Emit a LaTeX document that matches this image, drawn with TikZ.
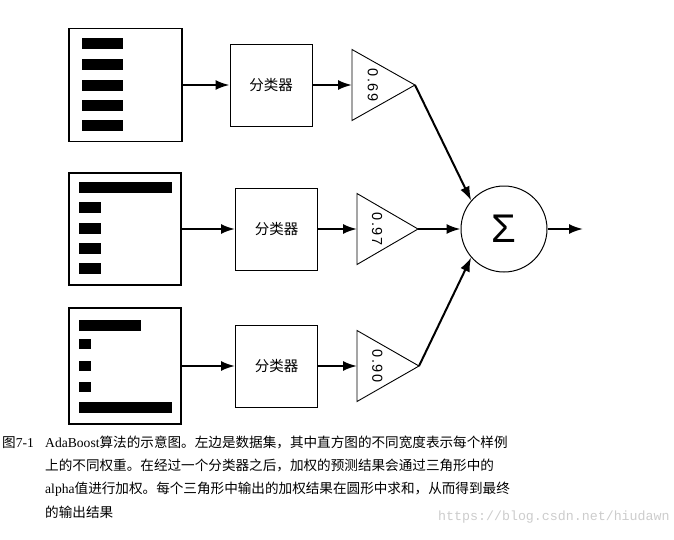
\documentclass[tikz,border=0pt]{standalone}
\usepackage{fontspec}
\setmainfont{Liberation Serif}
\newfontfamily\cjk{Noto Sans CJK SC}
\newfontfamily\sansf{Liberation Sans}
\newfontfamily\trifont[LetterSpace=12]{Liberation Sans}
\newfontfamily\wmfont{Liberation Mono}
\usetikzlibrary{arrows.meta,calc}
\begin{document}
\begin{tikzpicture}[x=1pt,y=-1pt,
  databox/.style={draw,line width=1.3pt,minimum width=113pt,minimum height=113pt,inner sep=0pt},
  clsbox/.style={draw,line width=1pt,minimum width=82pt,minimum height=82pt,inner sep=0pt,font=\cjk\fontsize{14.5}{16}\selectfont},
  flow/.style={line width=2pt,-{Latex[length=14pt,width=10pt]}},
  tri/.style={draw,line width=0.9pt,line join=miter},
  wlabel/.style={rotate=-90,font=\trifont\fontsize{14.5}{14.5}\selectfont,inner sep=0pt},
  sumnode/.style={draw,circle,line width=1pt,minimum size=86pt,inner sep=0pt,font=\sansf\fontsize{40}{40}\selectfont},
  captext/.style={anchor=base west,inner sep=0pt,font=\fontsize{13.6}{16}\selectfont},
]
\useasboundingbox (0,0) rectangle (674,539);
% data boxes
\node[databox] (d1) at (125.5,85) {};
\node[databox,minimum width=112pt,minimum height=112pt] (d2) at (125,229) {};
\node[databox,minimum width=112pt,minimum height=116pt] (d3) at (125,366) {};
% bars
\foreach \y in {43,64,85,105,125} \fill (82,\y-5.5) rectangle (123,\y+5.5);
\fill (79,181.5) rectangle (172,192.5);
\foreach \y in {207,228,248,268} \fill (79,\y-5.5) rectangle (101,\y+5.5);
\fill (79,319.5) rectangle (141,330.5);
\foreach \y in {344,366,387} \fill (79,\y-5) rectangle (91,\y+5);
\fill (79,401.5) rectangle (172,412.5);
% classifiers
\node[clsbox] (c1) at (271,85) {分类器};
\node[clsbox] (c2) at (276.5,229) {分类器};
\node[clsbox] (c3) at (276.5,366) {分类器};
% triangles
\coordinate (in1) at (352,85);  \coordinate (tip1) at (415,85);
\coordinate (in2) at (357,229); \coordinate (tip2) at (418,229);
\coordinate (in3) at (357,366); \coordinate (tip3) at (419,366);
\foreach \i in {1,2,3}
  \draw[tri] ($(in\i)+(0,-35.5)$) -- (tip\i) -- ($(in\i)+(0,35.5)$) -- cycle;
\node[wlabel] (w1) at ($(in1)!0.33!(tip1)$) {0.69};
\node[wlabel] (w2) at ($(in2)!0.33!(tip2)$) {0.97};
\node[wlabel] (w3) at ($(in3)!0.33!(tip3)$) {0.90};
% sum
\node[sumnode] (sum) at (504,229) {Σ};
\coordinate (out) at (583,229);
% arrows
\draw[flow] (d1.east) -- (c1.west);
\draw[flow] (d2.east) -- (c2.west);
\draw[flow] (d3.east) -- (c3.west);
\draw[flow] (c1.east) -- (in1);
\draw[flow] (c2.east) -- (in2);
\draw[flow] (c3.east) -- (in3);
\draw[flow] (tip1) -- (sum.139);
\draw[flow] (tip2) -- (sum.west);
\draw[flow] (tip3) -- (sum.221);
\draw[flow] (sum.east) -- (out);
% caption
\node[captext] (fig) at (2,447) {{\cjk 图}7-1};
\node[captext] (l1) at (45,447) {AdaBoost{\cjk 算法的示意图。左边是数据集，其中直方图的不同宽度表示每个样例}};
\node[captext] (l2) at (45,470) {\cjk 上的不同权重。在经过一个分类器之后，加权的预测结果会通过三角形中的};
\node[captext] (l3) at (45,493) {alpha{\cjk 值进行加权。每个三角形中输出的加权结果在圆形中求和，从而得到最终}};
\node[captext] (l4) at (45,517) {\cjk 的输出结果};
\node[anchor=base west,inner sep=0pt,font=\wmfont\fontsize{13.3}{14}\selectfont,text=gray!40] (wm) at (438,520) {https://blog.csdn.net/hiudawn};
\end{tikzpicture}
\end{document}
